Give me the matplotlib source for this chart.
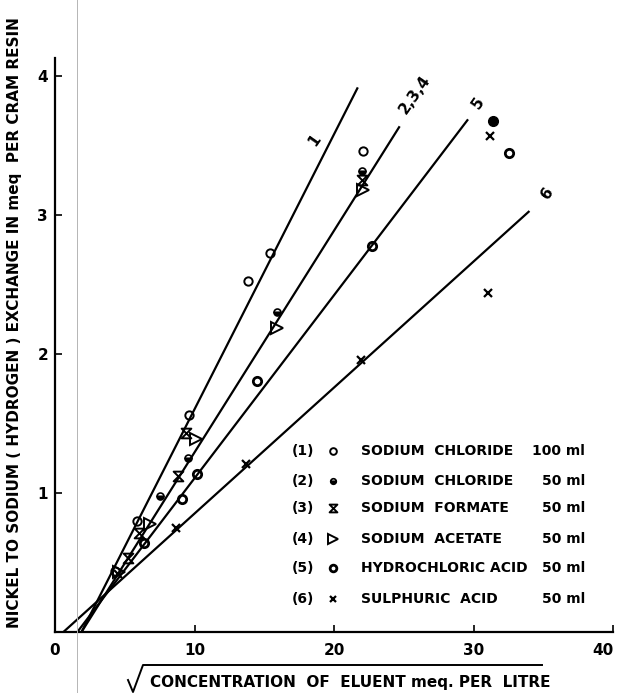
import matplotlib
matplotlib.use("Agg")
import matplotlib.pyplot as plt
from matplotlib.lines import Line2D
from matplotlib.path import Path

# ---- dati ----
# (1) sodium chloride 100 ml
nacl100_x = [4.3, 5.9, 9.6, 13.8, 15.4, 22.1]
nacl100_y = [0.44, 0.80, 1.56, 2.53, 2.73, 3.46]
# (2) sodium chloride 50 ml
nacl50_x = [7.5, 9.5, 15.9, 22.0]
nacl50_y = [0.98, 1.25, 2.30, 3.32]
# (3) sodium formate 50 ml
formate_x = [5.2, 6.0, 8.8, 9.4, 22.0]
formate_y = [0.53, 0.71, 1.12, 1.43, 3.25]
# (4) sodium acetate 50 ml
acetate_x = [4.6, 6.8, 10.1, 15.9, 22.1]
acetate_y = [0.43, 0.78, 1.39, 2.19, 3.18]
# (5) hydrochloric acid 50 ml
hcl_x = [6.4, 9.1, 10.2, 14.5, 22.7, 32.5]
hcl_y = [0.64, 0.96, 1.14, 1.81, 2.78, 3.45]
hcl_filled_x = [31.4]
hcl_filled_y = [3.68]
# (6) sulphuric acid 50 ml
h2so4_x = [4.5, 8.7, 13.7, 21.9, 31.0, 31.2]
h2so4_y = [0.42, 0.75, 1.21, 1.96, 2.44, 3.57]

# rette tracciate (estremi)
line_names = ["1", "2,3,4", "5", "6"]
line_x = [(1.9, 21.7), (1.9, 24.7), (1.6, 29.6), (0.6, 34.0)]
line_y = [(0.0, 3.92), (0.0, 3.64), (0.0, 3.69), (0.0, 3.03)]
label_x = [18.6, 25.8, 30.3, 35.3]
label_y = [3.54, 3.87, 3.81, 3.16]

legend_num = ["(1)", "(2)", "(3)", "(4)", "(5)", "(6)"]
legend_name = ["SODIUM  CHLORIDE", "SODIUM  CHLORIDE", "SODIUM  FORMATE",
               "SODIUM  ACETATE", "HYDROCHLORIC ACID", "SULPHURIC  ACID"]
legend_vol = ["100 ml", "50 ml", "50 ml", "50 ml", "50 ml", "50 ml"]

x_ticks = [0, 10, 20, 30, 40]
y_ticks = [1, 2, 3, 4]

# marker clessidra per sodium formate
hourglass = Path([(-1, 1), (1, 1), (-1, -1), (1, -1), (-1, 1)],
                 [Path.MOVETO, Path.LINETO, Path.LINETO, Path.LINETO, Path.CLOSEPOLY])

FONT = dict(fontweight="bold", family="DejaVu Sans")

fig = plt.figure(figsize=(6.2, 6.93), dpi=100)
ax = fig.add_axes([0.0887, 0.088, 0.9003, 0.828])

# rette
for (x0, x1), (y0, y1) in zip(line_x, line_y):
    ax.plot([x0, x1], [y0, y1], color="black", lw=1.6, solid_capstyle="butt")

for name, lx, ly in zip(line_names, label_x, label_y):
    ax.text(lx, ly, name, rotation=55, ha="center", va="center", fontsize=11, **FONT)

# serie
styles = [
    (nacl100_x, nacl100_y, dict(marker="o", ms=6, mfc="none", mew=1.4)),
    (nacl50_x, nacl50_y, dict(marker="o", ms=5, fillstyle="bottom", mfc="black", mew=1.2)),
    (formate_x, formate_y, dict(marker=hourglass, ms=7, mfc="none", mew=1.4)),
    (acetate_x, acetate_y, dict(marker=">", ms=9, mfc="none", mew=1.4)),
    (hcl_x, hcl_y, dict(marker="o", ms=6, mfc="none", mew=2.0)),
    (h2so4_x, h2so4_y, dict(marker="x", ms=6, mew=1.6)),
]
for xs, ys, st in styles:
    ax.plot(xs, ys, ls="none", color="black", mec="black", **st)
ax.plot(hcl_filled_x, hcl_filled_y, ls="none", marker="o", ms=7, color="black")

# legenda scritta a mano come nell'originale
row_y = [1.30, 1.09, 0.89, 0.67, 0.46, 0.24]
for i, ry in enumerate(row_y):
    ax.text(17.0, ry, legend_num[i], ha="left", va="center", fontsize=10, **FONT)
    st = dict(styles[i][2])
    st["ms"] = st["ms"] * 0.8
    ax.plot([19.9], [ry], ls="none", color="black", mec="black", **st)
    ax.text(21.9, ry, legend_name[i], ha="left", va="center", fontsize=10, **FONT)
    ax.text(38.0, ry, legend_vol[i], ha="right", va="center", fontsize=10, **FONT)

ax.set_xlim(0, 40)
ax.set_ylim(0, 4.13)
ax.set_xticks(x_ticks)
ax.set_yticks(y_ticks)
ax.set_xticklabels([str(t) for t in x_ticks], fontsize=11, **FONT)
ax.set_yticklabels([str(t) for t in y_ticks], fontsize=11, **FONT)
ax.tick_params(direction="in", length=5, width=1.2, pad=8)
ax.tick_params(axis="y", pad=5)
# l'ultima etichetta (40) sta sul bordo destro
ax.get_xticklabels()[-1].set_ha("right")
for s in ["top", "right"]:
    ax.spines[s].set_visible(False)
for s in ["left", "bottom"]:
    ax.spines[s].set_linewidth(1.6)

# etichette assi
fig.text(0.024, 0.535, "NICKEL TO SODIUM ( HYDROGEN ) EXCHANGE IN meq  PER CRAM RESIN",
         rotation=90, ha="center", va="center", fontsize=11, **FONT)
fig.text(0.565, 0.015, "CONCENTRATION  OF  ELUENT meq. PER  LITRE",
         ha="center", va="center", fontsize=11, **FONT)

# segno di radice sopra l'etichetta x
W, H = 620.0, 693.0
rx = [128, 133, 143, 542]
ry = [680, 692, 665, 665]
fig.add_artist(Line2D([x / W for x in rx], [1 - y / H for y in ry],
                      color="black", lw=1.4, transform=fig.transFigure))

# piega della scansione
fig.add_artist(Line2D([77 / W, 77 / W], [0, 1], color="#b5b5b5", lw=0.7,
                      transform=fig.transFigure))

fig.savefig("out.png", dpi=100)
